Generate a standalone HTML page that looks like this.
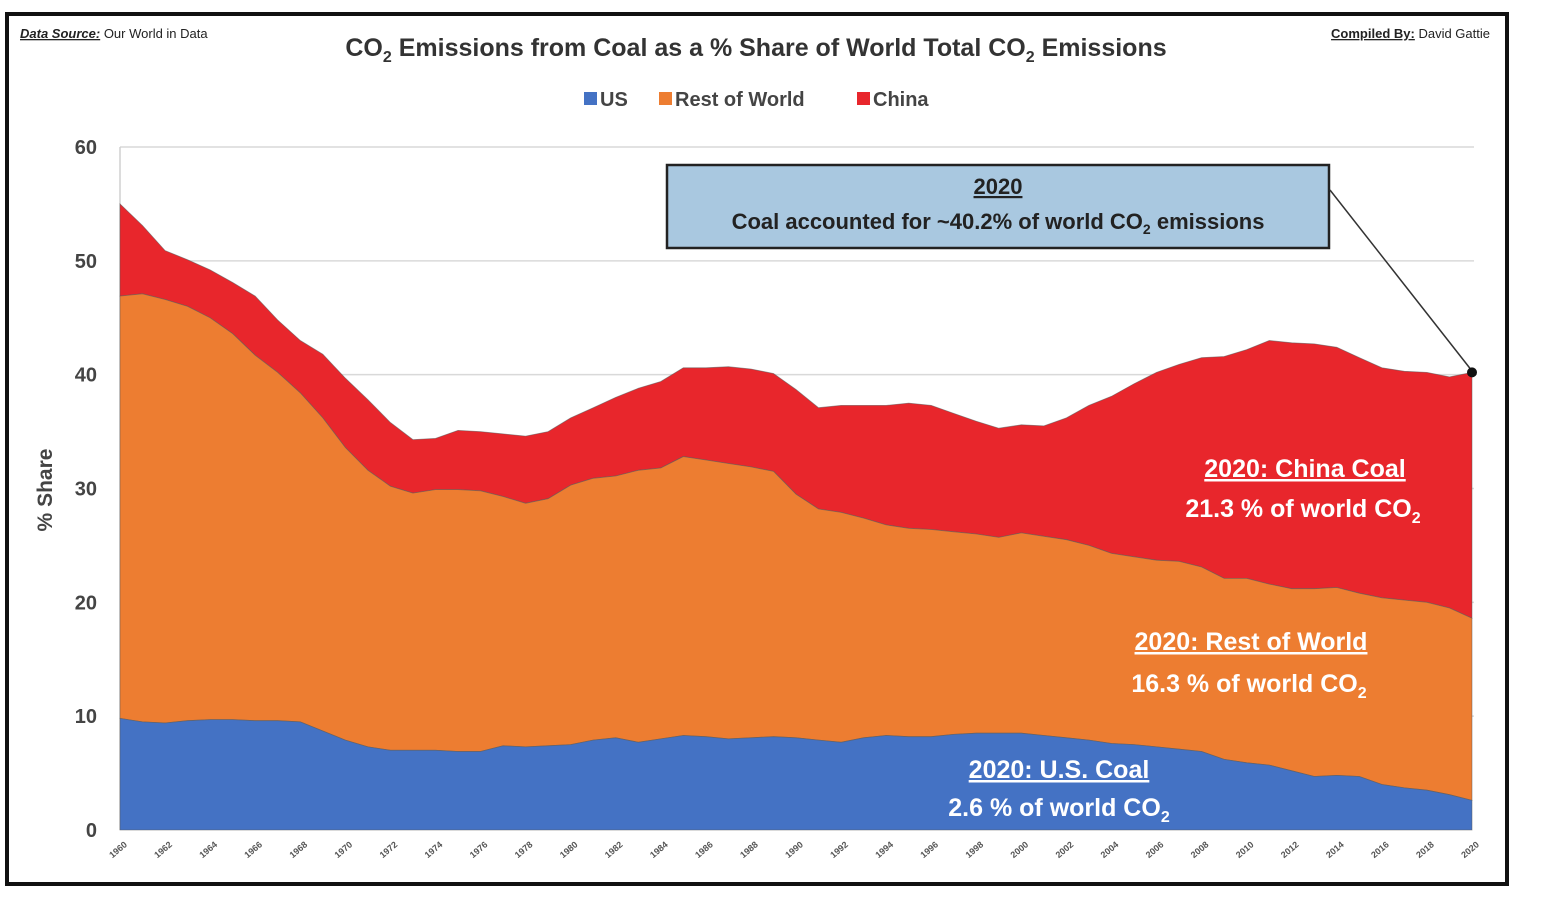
<!DOCTYPE html>
<html><head><meta charset="utf-8"><style>
html,body{margin:0;padding:0;background:#fff;}
svg{display:block;font-family:"Liberation Sans",sans-serif;}
</style></head><body>
<svg id="chart" width="1556" height="900" viewBox="0 0 1556 900">
<rect x="7" y="14" width="1500" height="870" fill="#fff" stroke="#111" stroke-width="4"/>
<text x="20" y="38" font-size="13" font-weight="bold" fill="#222"><tspan text-decoration="underline" font-style="italic">Data Source:</tspan><tspan font-weight="normal"> Our World in Data</tspan></text>
<text x="1490" y="38" font-size="13" font-weight="bold" fill="#222" text-anchor="end"><tspan text-decoration="underline">Compiled By:</tspan><tspan font-weight="normal"> David Gattie</tspan></text>
<text x="756" y="56" font-size="25" font-weight="bold" fill="#333" text-anchor="middle">CO<tspan font-size="16" dy="6">2</tspan><tspan dy="-6"> Emissions from Coal as a % Share of World Total CO</tspan><tspan font-size="16" dy="6">2</tspan><tspan dy="-6"> Emissions</tspan></text>
<g>
<rect x="584" y="92" width="13" height="13" fill="#4472c4"/>
<text x="600" y="106" font-size="20" font-weight="bold" fill="#444">US</text>
<rect x="659" y="92" width="13" height="13" fill="#ed7d31"/>
<text x="675" y="106" font-size="20" font-weight="bold" fill="#444">Rest of World</text>
<rect x="857" y="92" width="13" height="13" fill="#e8262c"/>
<text x="873" y="106" font-size="20" font-weight="bold" fill="#444">China</text>
</g>
<text transform="translate(52,490) rotate(-90)" font-size="21" font-weight="bold" fill="#444" text-anchor="middle">% Share</text>
<g id="grid"></g>
<g id="areas"></g>
<g id="xlabels"></g>
<g id="ylabels"></g>
<g id="annot"></g>
</svg>
<script>
const years = [];
for (let y = 1960; y <= 2020; y++) years.push(y);
const usShare = [9.8,9.5,9.4,9.6,9.7,9.7,9.6,9.6,9.5,8.7,7.9,7.3,7.0,7.0,7.0,6.9,6.9,7.4,7.3,7.4,7.5,7.9,8.1,7.7,8.0,8.3,8.2,8.0,8.1,8.2,8.1,7.9,7.7,8.1,8.3,8.2,8.2,8.4,8.5,8.5,8.5,8.3,8.1,7.9,7.6,7.5,7.3,7.1,6.9,6.2,5.9,5.7,5.2,4.7,4.8,4.7,4.0,3.7,3.5,3.1,2.6];
const rowShare = [37.1,37.6,37.2,36.4,35.3,33.9,32.1,30.6,28.9,27.5,25.7,24.3,23.2,22.6,22.9,23.0,22.9,21.9,21.4,21.7,22.8,23.0,23.0,23.9,23.8,24.5,24.3,24.2,23.8,23.3,21.4,20.3,20.2,19.3,18.5,18.3,18.2,17.8,17.5,17.2,17.6,17.5,17.4,17.1,16.7,16.5,16.4,16.5,16.2,15.9,16.2,15.9,16.0,16.5,16.5,16.1,16.4,16.5,16.5,16.4,16.0];
const chinaShare = [8.1,6.0,4.3,4.1,4.2,4.5,5.2,4.6,4.6,5.6,6.1,6.2,5.6,4.7,4.5,5.2,5.2,5.5,5.9,5.9,5.9,6.2,6.9,7.2,7.6,7.8,8.1,8.5,8.6,8.6,9.2,8.9,9.4,9.9,10.5,11.0,10.9,10.4,9.9,9.6,9.5,9.7,10.7,12.3,13.8,15.2,16.5,17.3,18.4,19.5,20.1,21.4,21.6,21.5,21.1,20.7,20.2,20.1,20.2,20.3,21.6];
const yTicks = [0,10,20,30,40,50,60];

const NS = "http://www.w3.org/2000/svg";
const X0 = 120, X1 = 1472, Y0 = 830, Y60 = 147;
const xs = yr => X0 + (yr - 1960) * (X1 - X0) / 60;
const ys = v => Y0 - v * (Y0 - Y60) / 60;
function mk(tag, attrs, parent) {
  const e = document.createElementNS(NS, tag);
  for (const k in attrs) e.setAttribute(k, attrs[k]);
  parent.appendChild(e);
  return e;
}
const grid = document.getElementById('grid');
const ylab = document.getElementById('ylabels');
yTicks.forEach(t => {
  if (t > 0) {
    const l = mk('line', {x1: X0, x2: X1 + 2, y1: ys(t), y2: ys(t), stroke: '#d9d9d9', 'stroke-width': 1.5}, grid);
    
    
  }
  const tx = mk('text', {x: 97, y: ys(t) + 7, 'text-anchor': 'end', 'font-size': 20, 'font-weight': 'bold', fill: '#444'}, ylab);
  tx.textContent = t;
  
  
});
const ax = mk('line', {x1: X0, x2: X0, y1: Y60, y2: Y0, stroke: '#d0d0d0', 'stroke-width': 1.5}, grid);



const areas = document.getElementById('areas');
const cumUS = usShare.slice();
const cumRow = usShare.map((v, i) => v + rowShare[i]);
const cumTot = cumRow.map((v, i) => v + chinaShare[i]);
function band(lower, upper, fill, name) {
  let d = '';
  years.forEach((yr, i) => { d += (i ? 'L' : 'M') + xs(yr).toFixed(1) + ',' + ys(upper[i]).toFixed(1); });
  for (let i = years.length - 1; i >= 0; i--) d += 'L' + xs(years[i]).toFixed(1) + ',' + ys(lower ? lower[i] : 0).toFixed(1);
  d += 'Z';
  const p = mk('path', {d: d, fill: fill, stroke: '#5a5a5a', 'stroke-width': 0.8, 'stroke-opacity': 0.6}, areas);
  
  
}
band(cumRow, cumTot, '#e8262c', 'area-china');
band(cumUS, cumRow, '#ed7d31', 'area-rest-of-world');
band(null, cumUS, '#4472c4', 'area-us');

const xl = document.getElementById('xlabels');
years.forEach(yr => {
  if ((yr - 1960) % 2) return;
  const x = xs(yr), y = 852;
  const t = mk('text', {x: x, y: y, transform: 'rotate(-40 ' + x + ' ' + y + ')', 'text-anchor': 'middle', 'font-size': 9, 'font-weight': 'bold', fill: '#555'}, xl);
  t.textContent = yr;
  
  
});

const an = document.getElementById('annot');
const box = mk('rect', {x: 667, y: 165, width: 662, height: 83, fill: '#a9c8e0', stroke: '#222', 'stroke-width': 2.5}, an);


const last = years.length - 1;
const ar = mk('line', {x1: 1330, y1: 190, x2: xs(years[last]) - 2, y2: ys(cumTot[last]) - 4, stroke: '#333', 'stroke-width': 1.5}, an);


const dot = mk('circle', {cx: xs(years[last]), cy: ys(cumTot[last]), r: 5, fill: '#111'}, an);


</script>
<g></g>
<svg width="1556" height="900" style="position:absolute;left:0;top:0;font-family:'Liberation Sans',sans-serif">
<text x="998" y="194" font-size="22" font-weight="bold" fill="#222" text-anchor="middle" text-decoration="underline">2020</text>
<text x="998" y="229" font-size="22" font-weight="bold" fill="#222" text-anchor="middle">Coal accounted for ~40.2% of world CO<tspan font-size="14" dy="5">2</tspan><tspan dy="-5"> emissions</tspan></text>
<text x="1305" y="477" font-size="25" font-weight="bold" fill="#fff" text-anchor="middle" text-decoration="underline">2020: China Coal</text>
<text x="1303" y="517" font-size="25" font-weight="bold" fill="#fff" text-anchor="middle">21.3 % of world CO<tspan font-size="16" dy="6">2</tspan></text>
<text x="1251" y="650" font-size="25" font-weight="bold" fill="#fff" text-anchor="middle" text-decoration="underline">2020: Rest of World</text>
<text x="1249" y="692" font-size="25" font-weight="bold" fill="#fff" text-anchor="middle">16.3 % of world CO<tspan font-size="16" dy="6">2</tspan></text>
<text x="1059" y="778" font-size="25" font-weight="bold" fill="#fff" text-anchor="middle" text-decoration="underline">2020: U.S. Coal</text>
<text x="1059" y="816" font-size="25" font-weight="bold" fill="#fff" text-anchor="middle">2.6 % of world CO<tspan font-size="16" dy="6">2</tspan></text>
</svg>
</body></html>
